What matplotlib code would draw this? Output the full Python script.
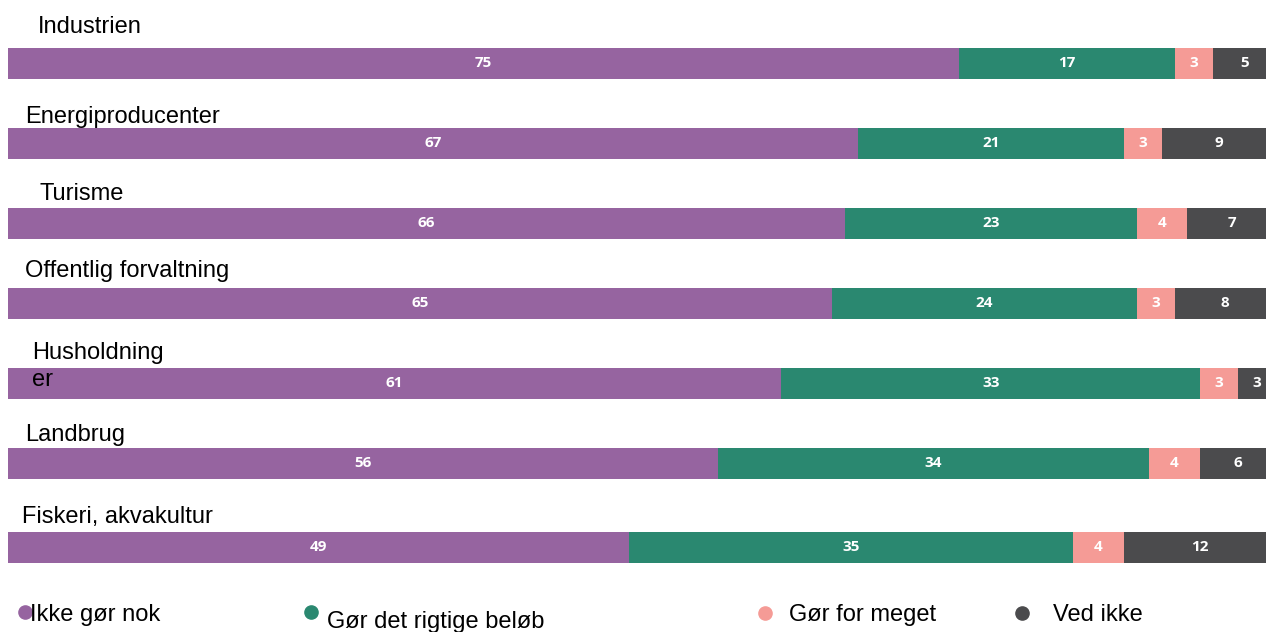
import numpy as np
import matplotlib
matplotlib.use("Agg")
import matplotlib.pyplot as plt
from matplotlib.lines import Line2D

# ---- data ----
categories = ["Industrien", "Energiproducenter", "Turisme", "Offentlig forvaltning",
              "Husholdning\ner", "Landbrug", "Fiskeri, akvakultur"]
ikke_gor_nok = [75, 67, 66, 65, 61, 56, 49]
rigtige_belob = [17, 21, 23, 24, 33, 34, 35]
for_meget = [3, 3, 4, 3, 3, 4, 4]
ved_ikke = [5, 9, 7, 8, 3, 6, 12]
series_names = ["Ikke gør nok", "Gør det rigtige beløb", "Gør for meget", "Ved ikke"]

# ---- style / layout ----
colors = ["#9664A0", "#2A8870", "#F59B96", "#4B4B4D"]
W, H, DPI = 1266, 632, 100
label_font = "Liberation Sans"
value_font = "Open Sans"

# per-label offsets (pixels) relative to bar start / bar centre (baseline of last line)
label_dx = [30, 17, 32, 17, 24, 17, 14]
label_dy = [30, 20.5, 22.5, 25.5, -3.5, 21.5, 24.5]

fig = plt.figure(figsize=(W / DPI, H / DPI), dpi=DPI)
ax = fig.add_axes([8 / W, 0, 1268 / W, 1])
px_per_unit = 80.0
top_px = 63.0
ax.set_ylim((H - top_px) / px_per_unit, -top_px / px_per_unit)
ax.set_xlim(0, 100)
ax.axis("off")

ypos = np.arange(len(categories), dtype=float)
ypos[-1] += 0.056
bar_h = 31 / px_per_unit

series = [ikke_gor_nok, rigtige_belob, for_meget, ved_ikke]
left = np.zeros(len(categories))
for vals, col in zip(series, colors):
    vals = np.array(vals, dtype=float)
    ax.barh(ypos, vals, left=left, height=bar_h, color=col, linewidth=0)
    for y, l, v in zip(ypos, left, vals):
        ax.text(l + v / 2, y, f"{int(v)}", ha="center", va="center",
                color="white", fontsize=11, fontweight="bold", family=value_font)
    left += vals

for cat, y, dx, dy in zip(categories, ypos, label_dx, label_dy):
    ax.annotate(cat, xy=(0, y), xytext=(dx, dy), textcoords="offset pixels",
                ha="left", va="baseline", fontsize=17, family=label_font,
                color="black", linespacing=1.3, annotation_clip=False)

# ---- legend ----
marker_x = [25, 311, 765, 1022]
marker_y = [612, 612, 613, 613]
text_x = [30, 327, 789, 1053]
text_base = [621, 628, 621, 621]
for name, col, mx, my, tx, tb in zip(series_names, colors, marker_x, marker_y, text_x, text_base):
    fig.add_artist(Line2D([mx / W], [1 - my / H], marker="o", markersize=9.5,
                          color=col, linestyle="none", transform=fig.transFigure))
    fig.text(tx / W, 1 - tb / H, name, ha="left", va="baseline", fontsize=17,
             family=label_font, color="black")

fig.savefig("out.png", dpi=DPI)
